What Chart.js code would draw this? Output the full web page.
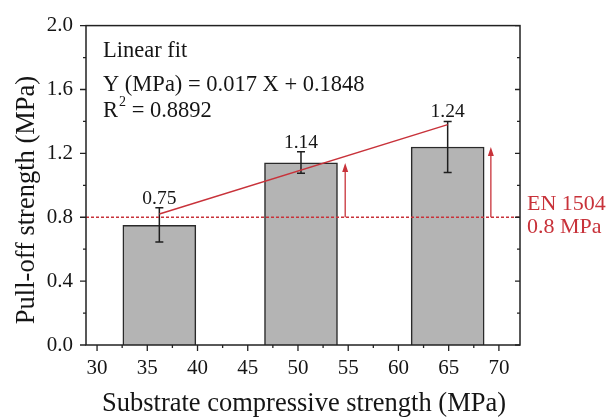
<!doctype html>
<html>
<head>
<title>Pull-off strength</title>
<script src="https://cdn.jsdelivr.net/npm/chart.js"></script>
<style>
html, body { margin: 0; padding: 0; background: #fff; }
</style>
</head>
<body>
<canvas id="myChart" width="608" height="417"></canvas>
<script>
// data
var strength = [36.2, 50.3, 64.9];
var pullOff = [0.75, 1.14, 1.24];
var errLow = [0.645, 1.075, 1.08];
var errHigh = [0.86, 1.21, 1.40];
var valueLabels = ['0.75', '1.14', '1.24'];
var fitX = [36.2, 64.9];
var fitY = [0.82, 1.38];
var limit = 0.8;
var limitX = [28.9, 72.1];
var arrowX = [54.7, 69.2];
var arrowTop = [1.14, 1.24];
var xTicks = [30, 35, 40, 45, 50, 55, 60, 65, 70];
var yTicks = [0.0, 0.4, 0.8, 1.2, 1.6, 2.0];
var limitText = ['EN 1504', '0.8 MPa'];
var fitText = ['Linear fit', 'Y (MPa) = 0.017 X + 0.1848', '= 0.8892'];

var RED = '#c8323a';
var INK = '#151515';
var SERIF = '"Liberation Serif", "Times New Roman", serif';

var decor = {
    id: 'decor',
    afterDatasetDraw: function(chart, args) {
        if (args.index !== 0) return;
        var c = chart.ctx, x = chart.scales.x, y = chart.scales.y;
        c.save();
        c.strokeStyle = '#1e1e1e';
        c.lineWidth = 1.5;
        strength.forEach(function(v, i) {
            var px = x.getPixelForValue(v);
            var t = y.getPixelForValue(errHigh[i]);
            var b = y.getPixelForValue(errLow[i]);
            c.beginPath();
            c.moveTo(px, t); c.lineTo(px, b);
            c.moveTo(px - 4, t); c.lineTo(px + 4, t);
            c.moveTo(px - 4, b); c.lineTo(px + 4, b);
            c.stroke();
            c.fillStyle = INK;
            c.font = '19.5px ' + SERIF;
            c.textAlign = 'center';
            c.textBaseline = 'alphabetic';
            c.fillText(valueLabels[i], px, t - 4);
        });
        c.restore();
    },
    afterDraw: function(chart) {
        var c = chart.ctx, a = chart.chartArea, x = chart.scales.x, y = chart.scales.y;
        c.save();
        // arrows from the limit up to the bars
        c.strokeStyle = RED;
        c.fillStyle = RED;
        c.lineWidth = 1.3;
        arrowX.forEach(function(v, i) {
            var px = x.getPixelForValue(v);
            var b = y.getPixelForValue(limit);
            var t = y.getPixelForValue(arrowTop[i]);
            c.beginPath();
            c.moveTo(px, b); c.lineTo(px, t + 6);
            c.stroke();
            c.beginPath();
            c.moveTo(px, t); c.lineTo(px - 3, t + 9); c.lineTo(px + 3, t + 9);
            c.closePath();
            c.fill();
        });

        // frame
        c.strokeStyle = '#222';
        c.lineWidth = 1.5;
        c.strokeRect(a.left, a.top, a.right - a.left, a.bottom - a.top);

        // tick marks
        c.lineWidth = 1.3;
        c.beginPath();
        for (var v = 27.5; v <= 72; v += 2.5) {
            if (v < x.min || v > x.max) continue;
            var px = x.getPixelForValue(v);
            var len = (v % 5 === 0) ? 6 : 3;
            c.moveTo(px, a.bottom); c.lineTo(px, a.bottom + len);
        }
        for (var k = 0; k <= 10; k++) {
            var val = k * 0.2;
            var py = y.getPixelForValue(val);
            var major = (k % 2 === 0);
            c.moveTo(a.left, py); c.lineTo(a.left - (major ? 6 : 3), py);
            c.moveTo(a.right, py); c.lineTo(a.right - (major ? 5 : 3), py);
        }
        c.stroke();

        // axis titles
        c.fillStyle = INK;
        c.font = '26.5px ' + SERIF;
        c.textAlign = 'center';
        c.textBaseline = 'alphabetic';
        c.fillText('Substrate compressive strength (MPa)', 304, 411);
        c.save();
        c.translate(34, 200);
        c.rotate(-Math.PI / 2);
        c.fillText('Pull-off strength (MPa)', 0, 0);
        c.restore();

        // fit annotation
        c.textAlign = 'left';
        c.font = '22.5px ' + SERIF;
        c.fillText(fitText[0], 103, 57);
        c.fillText(fitText[1], 103, 91);
        c.fillText('R', 103, 117);
        var rw = c.measureText('R').width;
        c.font = '14px ' + SERIF;
        c.fillText('2', 103 + rw + 1, 106);
        c.font = '22.5px ' + SERIF;
        c.fillText(' ' + fitText[2], 103 + rw + 8, 117);

        // limit label
        c.fillStyle = RED;
        c.font = '22px ' + SERIF;
        c.fillText(limitText[0], 527, 210);
        c.fillText(limitText[1], 527, 233);
        c.restore();
    }
};

var ctx = document.getElementById('myChart').getContext('2d');
var chart = new Chart(ctx, {
    type: 'bar',
    data: {
        datasets: [{
            label: 'Pull-off strength',
            data: strength.map(function(v, i) { return { x: v, y: pullOff[i] }; }),
            backgroundColor: '#b4b4b4',
            borderColor: '#2a2a2a',
            borderWidth: 1.5,
            borderSkipped: 'bottom',
            barThickness: 73,
            order: 3
        }, {
            type: 'line',
            label: 'Linear fit',
            data: fitX.map(function(v, i) { return { x: v, y: fitY[i] }; }),
            borderColor: RED,
            borderWidth: 1.5,
            pointRadius: 0,
            fill: false,
            order: 1
        }, {
            type: 'line',
            label: 'EN 1504',
            data: limitX.map(function(v) { return { x: v, y: limit }; }),
            borderColor: RED,
            borderWidth: 1.5,
            borderDash: [3, 2],
            pointRadius: 0,
            fill: false,
            order: 2
        }]
    },
    options: {
        responsive: false,
        animation: false,
        layout: { padding: { top: 23, right: 88, left: 0, bottom: 0 } },
        plugins: {
            legend: { display: false },
            tooltip: { enabled: false }
        },
        scales: {
            x: {
                type: 'linear',
                min: 28.9,
                max: 72.1,
                offset: false,
                grid: { display: false, offset: false, drawTicks: false },
                border: { display: false },
                afterBuildTicks: function(s) { s.ticks = xTicks.map(function(v) { return { value: v }; }); },
                afterFit: function(s) { s.height = 72; },
                ticks: {
                    padding: 11,
                    color: INK,
                    font: { family: SERIF, size: 21 },
                    maxRotation: 0,
                    autoSkip: false
                }
            },
            y: {
                min: 0,
                max: 2,
                grid: { display: false, drawTicks: false },
                border: { display: false },
                afterBuildTicks: function(s) { s.ticks = yTicks.map(function(v) { return { value: v }; }); },
                afterFit: function(s) { s.width = 86; },
                ticks: {
                    padding: 13,
                    color: INK,
                    font: { family: SERIF, size: 21 },
                    callback: function(v) { return Number(v).toFixed(1); }
                }
            }
        }
    },
    plugins: [decor]
});
</script>
</body>
</html>
